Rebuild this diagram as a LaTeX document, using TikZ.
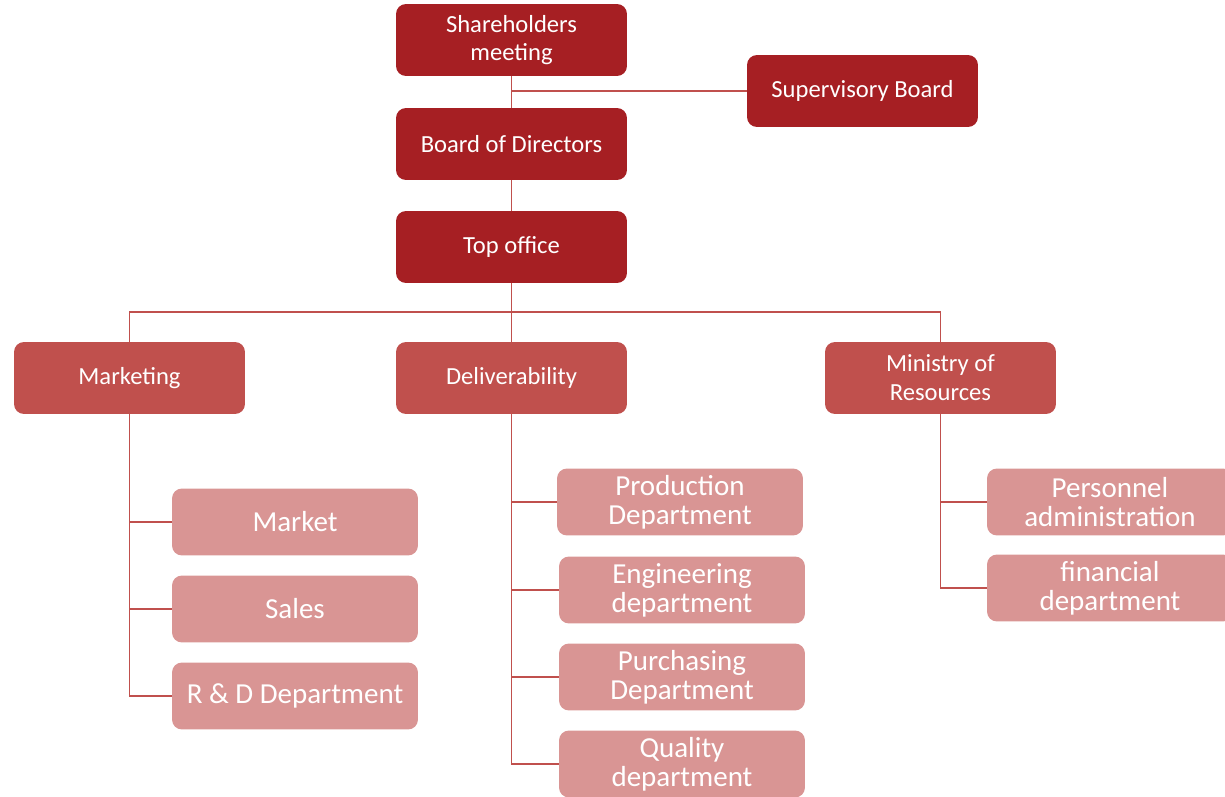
\documentclass[tikz,border=0pt]{standalone}
\usepackage{fontspec}
\setmainfont{Carlito}
\usepackage{tikz}
\definecolor{darkred}{HTML}{A61F23}
\definecolor{midred}{HTML}{C0504D}
\definecolor{palered}{HTML}{D99594}

\begin{document}
\begin{tikzpicture}[x=0.02cm, y=-0.02cm,
	head/.style={fill=darkred, rounded corners=0.2cm, minimum width=4.62cm, minimum height=1.44cm, inner sep=0pt, text=white, align=center, font=\fontsize{14}{16.4}\selectfont},
	dept/.style={head, fill=midred},
	unit/.style={head, fill=palered, minimum width=4.92cm, minimum height=1.34cm, font=\fontsize{16.5}{16.4}\selectfont},
	link/.style={draw=midred, line width=1.1pt}]

	\useasboundingbox (0,0) rectangle (1225,797);

	% top of the chart
	\node[head] (share) at (511.5,40) {Shareholders\\meeting};
	\node[head] (super) at (862.5,91) {Supervisory Board};
	\node[head] (board) at (511.5,144) {Board of Directors};
	\node[head] (top) at (511.5,247) {Top office};

	% departments
	\node[dept] (mkt) at (129.5,378) {Marketing};
	\node[dept] (deliv) at (511.5,378) {Deliverability};
	\node[dept] (res) at (940.5,378) {Ministry of\\Resources};

	% units
	\node[unit] (market) at (295,522) {Market};
	\node[unit] (sales) at (295,609) {Sales};
	\node[unit] (rd) at (295,696) {R \& D Department};

	\node[unit] (prod) at (680,502) {Production\\Department};
	\node[unit] (eng) at (682,590) {Engineering\\department};
	\node[unit] (purch) at (682,677) {Purchasing\\Department};
	\node[unit] (qual) at (682,764) {Quality\\department};

	\node[unit] (pers) at (1110,502) {Personnel\\administration};
	\node[unit] (fin) at (1110,588) {financial\\department};

	\coordinate (bus) at (511.5,312);

	\draw[link] (share) -- (board);
	\draw[link] (super.west) -- (super.west -| share.south);
	\draw[link] (board) -- (top);
	\draw[link] (top) -- (bus);
	\draw[link] (mkt.north) |- (bus) -| (res.north);
	\draw[link] (bus) -- (deliv.north);

	\draw[link] (mkt.south) |- (rd.west);
	\foreach \u in {market,sales}
		\draw[link] (mkt.south |- \u.west) -- (\u.west);

	\draw[link] (deliv.south) |- (qual.west);
	\foreach \u in {prod,eng,purch}
		\draw[link] (deliv.south |- \u.west) -- (\u.west);

	\draw[link] (res.south) |- (fin.west);
	\draw[link] (res.south |- pers.west) -- (pers.west);

\end{tikzpicture}
\end{document}
